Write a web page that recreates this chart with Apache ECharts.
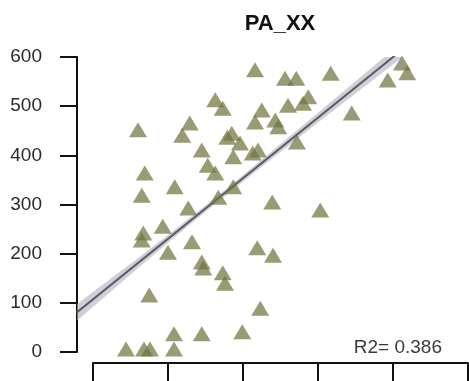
<!DOCTYPE html>
<html><head><meta charset="utf-8">
<script src="https://cdn.jsdelivr.net/npm/echarts@6/dist/echarts.min.js"></script>
<style>html,body{margin:0;padding:0;background:#fff}#c{width:469px;height:381px}</style>
</head><body><div id="c"></div>
<script>
// ---- data ----
const titleText = 'PA_XX';
const r2Text = 'R2= 0.386';
const yTicks = [0, 100, 200, 300, 400, 500, 600];
const xTicks = [0, 1, 2, 3, 4, 5];
const xValues = [0.44, 0.68, 0.76, 1.08, 1.08, 1.45, 1.99, 2.23, 0.75, 1.73,
  1.76, 1.45, 1.47, 2.19, 2.40, 1.00, 1.32, 0.65, 0.67, 0.93,
  1.27, 0.65, 1.09, 0.69, 0.60, 1.19, 1.29, 1.63, 1.73, 1.45,
  1.53, 1.63, 1.79, 1.96, 1.87, 2.13, 1.85, 1.67, 1.87, 2.39,
  3.03, 2.16, 2.56, 2.71, 3.17, 2.25, 2.60, 2.80, 2.87, 3.45,
  2.16, 2.43, 2.47, 2.72, 2.20, 4.12, 4.19, 3.93];
const yValues = [6, 6, 6, 6, 37, 37, 41, 89, 116, 161,
  140, 183, 171, 212, 197, 203, 224, 228, 242, 256,
  293, 319, 336, 364, 452, 441, 466, 513, 496, 411,
  380, 364, 437, 425, 397, 405, 445, 315, 336, 305,
  289, 574, 557, 557, 567, 492, 502, 506, 519, 486,
  468, 472, 458, 427, 411, 588, 568, 553];
const fitCoef = [107, 123.2];           // intercept, slope
const bandX = [-0.22, 0.5, 1.0, 1.5, 2.0, 2.5, 3.0, 3.5, 4.0, 4.3];
const bandHalf = [17, 11, 8, 6.5, 6.5, 8, 10, 12.5, 15, 17];

// ---- build ----
const pts = xValues.map((x, i) => [x, yValues[i]]);
const fit = x => fitCoef[0] + fitCoef[1] * x;
const lineData = [[bandX[0], fit(bandX[0])], [bandX[bandX.length - 1], fit(bandX[bandX.length - 1])]];
const upper = bandX.map((x, i) => [x, fit(x) + bandHalf[i]]);
const lower = bandX.map((x, i) => [x, fit(x) - bandHalf[i]]);

const font = "'Liberation Sans', Arial, Helvetica, sans-serif";
const chart = echarts.init(document.getElementById('c'), null, {renderer: 'canvas'});
chart.setOption({
  animation: false,
  backgroundColor: '#fff',
  grid: [
    {left: 77, right: 1, top: 57, bottom: 29},
    {left: 93, right: 1, top: 57, bottom: 18}
  ],
  xAxis: [
    {gridIndex: 0, type: 'value', min: -16 / 75, max: xTicks[xTicks.length - 1],
      axisLine: {show: false}, axisTick: {show: false}, axisLabel: {show: false}, splitLine: {show: false}},
    {gridIndex: 1, type: 'value', min: xTicks[0], max: xTicks[xTicks.length - 1], interval: 1,
      axisLine: {show: true, onZero: false, lineStyle: {color: '#111', width: 2}},
      axisTick: {show: true, length: 18, lineStyle: {color: '#111', width: 2}},
      axisLabel: {show: false}, splitLine: {show: false}}
  ],
  yAxis: [
    {gridIndex: 0, type: 'value', min: yTicks[0], max: yTicks[yTicks.length - 1], interval: 100,
      axisLine: {show: true, onZero: false, lineStyle: {color: '#111', width: 2}},
      axisTick: {show: true, length: 17, lineStyle: {color: '#111', width: 2}},
      axisLabel: {show: true, margin: 35, color: '#2a2a2a', fontSize: 19, fontFamily: font},
      splitLine: {show: false}},
    {gridIndex: 1, type: 'value', show: false, min: 0, max: 1}
  ],
  graphic: [
    {type: 'text', x: 280, y: 24, style: {text: titleText, fill: '#111', font: 'bold 22px ' + font,
      textAlign: 'center', textVerticalAlign: 'middle'}},
    {type: 'text', x: 442, y: 348, style: {text: r2Text, fill: '#3a3a3a', font: '19px ' + font,
      textAlign: 'right', textVerticalAlign: 'middle'}}
  ],
  series: [
    {type: 'custom', xAxisIndex: 0, yAxisIndex: 0, data: [0], z: 1, clip: true, silent: true,
      renderItem: function (params, api) {
        const poly = upper.map(p => api.coord(p)).concat(lower.slice().reverse().map(p => api.coord(p)));
        const cs = params.coordSys;
        return {
          type: 'group',
          clipPath: {type: 'rect', shape: {x: cs.x, y: cs.y, width: cs.width, height: cs.height}},
          children: [{type: 'polygon', shape: {points: poly},
            style: {fill: 'rgba(175,175,188,0.6)', stroke: null}}]
        };
      }},
    {type: 'line', xAxisIndex: 0, yAxisIndex: 0, data: lineData, symbol: 'none',
      lineStyle: {color: '#5a5a68', width: 2}, clip: true, z: 2},
    {type: 'scatter', xAxisIndex: 0, yAxisIndex: 0, data: pts, symbol: 'triangle', symbolSize: [18, 15],
      itemStyle: {color: 'rgba(112,116,62,0.9)'}, z: 3}
  ]
});
</script>
</body></html>
